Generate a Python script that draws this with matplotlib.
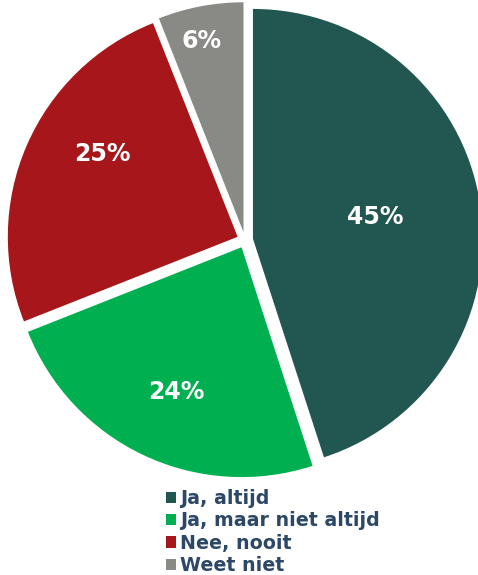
import matplotlib.pyplot as plt
import numpy as np

labels = ["Ja, altijd", "Ja, maar niet altijd", "Nee, nooit", "Weet niet"]
waarden = [45, 24, 25, 6]
kleuren = ["#215750", "#00B050", "#A6161A", "#898A86"]

fig = plt.figure(figsize=(4.78, 5.75), dpi=100)
ax = fig.add_axes([6 / 478, 96 / 575, 478 / 478, 478 / 575])

wedges, teksten, pct = ax.pie(
    waarden, colors=kleuren, startangle=90, counterclock=False,
    explode=[0.035] * 4, autopct="%d%%", pctdistance=0.7,
    wedgeprops=dict(linewidth=0),
    textprops=dict(color="white", fontsize=17, fontweight="bold"),
)

# labels per stuk iets verschuiven zoals in het origineel
afstanden = [0.54, 0.69, 0.69, 0.85]
draai = [1.0, 1, -8, 1.5]
for w, t, d, a in zip(wedges, pct, afstanden, draai):
    hoek = np.deg2rad((w.theta1 + w.theta2) / 2 + a)
    cx, cy = w.center
    t.set_position((cx + d * np.cos(hoek), cy + d * np.sin(hoek)))

ax.set_xlim(-1.04, 1.04)
ax.set_ylim(-1.04, 1.04)
ax.set_aspect("equal")

fig.legend(wedges, labels, loc="upper left", bbox_to_anchor=(166 / 478, 1 - 489 / 575),
           frameon=False, handlelength=0.55, handleheight=0.55, handletextpad=0.2,
           labelspacing=0.18, borderpad=0, borderaxespad=0,
           prop=dict(size=13.7, weight="bold"), labelcolor="#2D4866")

fig.savefig("out.png", dpi=100)
